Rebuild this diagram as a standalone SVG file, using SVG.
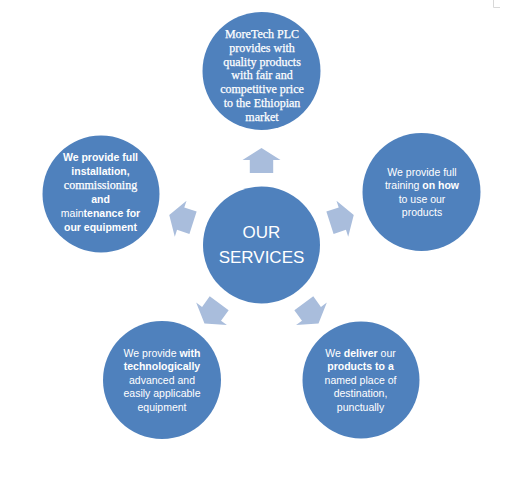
<svg xmlns="http://www.w3.org/2000/svg" width="519" height="480" viewBox="0 0 519 480">
<style>
.c{fill:#4F81BD;}
.a{fill:#A9BDDC;}
.t{font-family:"Liberation Sans",Arial,sans-serif;font-size:10.5px;fill:#fff;text-anchor:middle;}
.s{font-family:"Liberation Serif","Times New Roman",serif;font-size:12px;fill:#fff;text-anchor:middle;stroke:#fff;stroke-width:0.25px;}
.b{font-weight:bold;}
.m{font-family:"Liberation Sans",Arial,sans-serif;font-size:17px;fill:#fff;text-anchor:middle;}
</style>
<defs>
<path id="arr" d="M0,-97 L19,-85 L11.7,-85 L11.7,-72 L-11.7,-72 L-11.7,-85 L-19,-85 Z"/>
</defs>
<rect width="519" height="480" fill="#fff"/>
<g id="mark" stroke="#d8d8d8" stroke-width="1" fill="none">
<path d="M493.5,0 V7.5 H500"/>
</g>
<g id="connectors" class="a">
<use href="#arr" transform="translate(261.5,245)"/>
<use href="#arr" transform="translate(261.5,245) rotate(72)"/>
<use href="#arr" transform="translate(261.5,245) rotate(-72)"/>
<use href="#arr" transform="translate(261.5,245) rotate(144)"/>
<use href="#arr" transform="translate(261.5,245) rotate(-144)"/>
</g>
<g id="center">
<circle class="c" cx="261.5" cy="245" r="58.5"/>
<text class="m" x="261.5" y="238">OUR</text>
<text class="m" x="261.5" y="263">SERVICES</text>
</g>
<g id="top">
<circle class="c" cx="261.5" cy="71" r="59"/>
<text class="s" x="262" y="38">MoreTech PLC</text>
<text class="s" x="262" y="51.8">provides with</text>
<text class="s" x="262" y="65.6">quality products</text>
<text class="s" x="262" y="79.4">with fair and</text>
<text class="s" x="262" y="93.2">competitive price</text>
<text class="s" x="262" y="107">to the Ethiopian</text>
<text class="s" x="262" y="120.8">market</text>
</g>
<g id="right">
<circle class="c" cx="421.5" cy="192" r="59"/>
<text class="t" x="422" y="176">We provide full</text>
<text class="t" x="422" y="189.4">training <tspan class="b">on how</tspan></text>
<text class="t" x="422" y="202.8">to use our</text>
<text class="t" x="422" y="216.2">products</text>
</g>
<g id="left">
<circle class="c" cx="101" cy="194" r="58.5"/>
<text class="t b" x="100.5" y="160.7">We provide full</text>
<text class="t b" x="100.5" y="174.7">installation,</text>
<text class="s" x="100.5" y="188.7">commissioning</text>
<text class="t b" x="100.5" y="202.7">and</text>
<text class="t" x="100.5" y="216.7">main<tspan class="b">tenance for</tspan></text>
<text class="t b" x="100.5" y="230.7">our equipment</text>
</g>
<g id="bottom-left">
<circle class="c" cx="162" cy="380" r="59"/>
<text class="t" x="162" y="356.7">We provide <tspan class="b">with</tspan></text>
<text class="t b" x="162" y="370.2">technologically</text>
<text class="t" x="162" y="383.7">advanced and</text>
<text class="t" x="162" y="397.2">easily applicable</text>
<text class="t" x="162" y="410.7">equipment</text>
</g>
<g id="bottom-right">
<circle class="c" cx="361" cy="380" r="58.5"/>
<text class="t" x="360.5" y="356.7">We <tspan class="b">deliver</tspan> our</text>
<text class="t b" x="360.5" y="370.2">products to a</text>
<text class="t" x="360.5" y="383.7">named place of</text>
<text class="t" x="360.5" y="397.2">destination,</text>
<text class="t" x="360.5" y="410.7">punctually</text>
</g>
</svg>
